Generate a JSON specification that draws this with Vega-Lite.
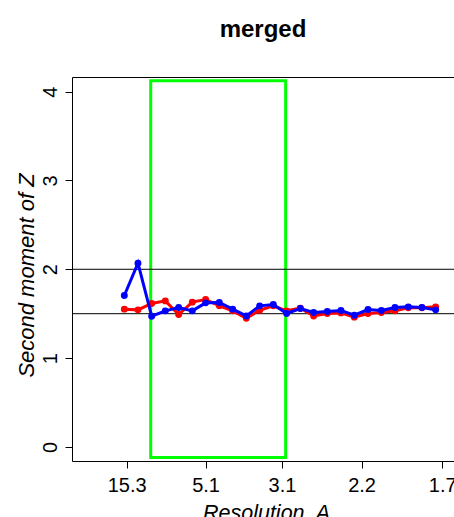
{
  "$schema": "https://vega.github.io/schema/vega-lite/v6.json",
  "width": 382,
  "height": 384,
  "autosize": {"type": "none"},
  "padding": {"left": 72, "top": 77, "right": 0, "bottom": 56},
  "background": "white",
  "title": {"text": "merged", "font": "Liberation Sans", "fontSize": 24, "fontWeight": "bold", "color": "black", "anchor": "middle", "baseline": "alphabetic", "offset": 16},
  "config": {"view": {"stroke": null}},
  "data": {"values": [
    {"kind": "box", "s": 0.1052, "s2": 0.3288, "v": -0.119, "v2": 4.122},
    {"kind": "ref", "v": 2.0},
    {"kind": "ref", "v": 1.5},
    {"kind": "red", "s": 0.0615, "v": 1.551},
    {"kind": "red", "s": 0.0841, "v": 1.543},
    {"kind": "red", "s": 0.1068, "v": 1.615},
    {"kind": "red", "s": 0.1294, "v": 1.644},
    {"kind": "red", "s": 0.1515, "v": 1.491},
    {"kind": "red", "s": 0.1741, "v": 1.630},
    {"kind": "red", "s": 0.1962, "v": 1.660},
    {"kind": "red", "s": 0.2189, "v": 1.588},
    {"kind": "red", "s": 0.2410, "v": 1.532},
    {"kind": "red", "s": 0.2636, "v": 1.449},
    {"kind": "red", "s": 0.2857, "v": 1.539},
    {"kind": "red", "s": 0.3083, "v": 1.588},
    {"kind": "red", "s": 0.3304, "v": 1.532},
    {"kind": "red", "s": 0.3531, "v": 1.562},
    {"kind": "red", "s": 0.3751, "v": 1.475},
    {"kind": "red", "s": 0.3978, "v": 1.502},
    {"kind": "red", "s": 0.4204, "v": 1.509},
    {"kind": "red", "s": 0.4425, "v": 1.461},
    {"kind": "red", "s": 0.4652, "v": 1.502},
    {"kind": "red", "s": 0.4873, "v": 1.513},
    {"kind": "red", "s": 0.5099, "v": 1.532},
    {"kind": "red", "s": 0.5320, "v": 1.566},
    {"kind": "red", "s": 0.5546, "v": 1.566},
    {"kind": "red", "s": 0.5773, "v": 1.577},
    {"kind": "blue", "s": 0.0615, "v": 1.705},
    {"kind": "blue", "s": 0.0841, "v": 2.069},
    {"kind": "blue", "s": 0.1068, "v": 1.472},
    {"kind": "blue", "s": 0.1294, "v": 1.532},
    {"kind": "blue", "s": 0.1515, "v": 1.570},
    {"kind": "blue", "s": 0.1741, "v": 1.532},
    {"kind": "blue", "s": 0.1962, "v": 1.622},
    {"kind": "blue", "s": 0.2189, "v": 1.626},
    {"kind": "blue", "s": 0.2410, "v": 1.551},
    {"kind": "blue", "s": 0.2636, "v": 1.475},
    {"kind": "blue", "s": 0.2857, "v": 1.588},
    {"kind": "blue", "s": 0.3083, "v": 1.604},
    {"kind": "blue", "s": 0.3304, "v": 1.502},
    {"kind": "blue", "s": 0.3531, "v": 1.558},
    {"kind": "blue", "s": 0.3751, "v": 1.513},
    {"kind": "blue", "s": 0.3978, "v": 1.525},
    {"kind": "blue", "s": 0.4204, "v": 1.536},
    {"kind": "blue", "s": 0.4425, "v": 1.483},
    {"kind": "blue", "s": 0.4652, "v": 1.547},
    {"kind": "blue", "s": 0.4873, "v": 1.536},
    {"kind": "blue", "s": 0.5099, "v": 1.570},
    {"kind": "blue", "s": 0.5320, "v": 1.577},
    {"kind": "blue", "s": 0.5546, "v": 1.570},
    {"kind": "blue", "s": 0.5773, "v": 1.543}
  ]},
  "encoding": {
    "y": {
      "field": "v", "type": "quantitative",
      "scale": {"domain": [-0.158, 4.164], "nice": false, "zero": false},
      "axis": {
        "values": [0, 1, 2, 3, 4], "grid": false, "domain": true, "domainColor": "black", "domainWidth": 1,
        "ticks": true, "tickColor": "black", "tickSize": 7, "tickWidth": 1,
        "labelAngle": 270, "labelAlign": "center", "labelBaseline": "alphabetic", "labelPadding": 9,
        "labelFont": "Liberation Sans", "labelFontSize": 20, "labelColor": "black", "labelFlush": false, "labelOverlap": false,
        "title": "Second moment of Z", "titleFont": "Liberation Sans", "titleFontSize": 22, "titleFontStyle": "italic", "titleFontWeight": "normal", "titleColor": "black",
        "titleAngle": 270, "titleAlign": "center", "titleBaseline": "alphabetic", "titleX": -39, "titleY": 198
      }
    }
  },
  "layer": [
    {
      "transform": [{"filter": "datum.kind == 'box'"}],
      "mark": {"type": "rect", "fillOpacity": 0, "stroke": "#00ff00", "strokeWidth": 3},
      "encoding": {
        "x": {"field": "s", "type": "quantitative", "scale": {"domain": [-0.0252, 0.6077], "nice": false, "zero": false},
          "axis": {"orient": "top", "ticks": false, "labels": false, "domain": true, "domainColor": "black", "domainWidth": 1, "grid": false, "title": null}},
        "x2": {"field": "s2"},
        "y2": {"field": "v2"}
      }
    },
    {
      "transform": [{"filter": "datum.kind == 'ref'"}],
      "mark": {"type": "rule", "color": "black", "strokeWidth": 1},
      "encoding": {}
    },
    {
      "transform": [{"filter": "datum.kind == 'red'"}],
      "mark": {"type": "line", "color": "#ff0000", "strokeWidth": 3, "point": {"filled": true, "size": 48, "color": "#ff0000", "opacity": 1}},
      "encoding": {
        "x": {"field": "s", "type": "quantitative", "scale": {"domain": [-0.0252, 0.6077], "nice": false, "zero": false},
          "axis": {
            "orient": "bottom", "values": [0.06536, 0.19608, 0.32258, 0.45455, 0.58824],
            "labelExpr": "format(1/datum.value, '.1f')",
            "grid": false, "domain": true, "domainColor": "black", "domainWidth": 1,
            "ticks": true, "tickColor": "black", "tickSize": 7, "tickWidth": 1,
            "labelFont": "Liberation Sans", "labelFontSize": 20, "labelColor": "black", "labelBaseline": "alphabetic", "labelPadding": 23.7,
            "labelFlush": false, "labelOverlap": false, "labelBound": false,
            "title": "Resolution, A", "titleFont": "Liberation Sans", "titleFontSize": 21.5, "titleFontStyle": "italic", "titleFontWeight": "normal", "titleColor": "black",
            "titleBaseline": "alphabetic", "titleAlign": "center", "titleX": 194, "titleY": 58
          }}
      }
    },
    {
      "transform": [{"filter": "datum.kind == 'blue'"}],
      "mark": {"type": "line", "color": "#0000ff", "strokeWidth": 3, "point": {"filled": true, "size": 48, "color": "#0000ff", "opacity": 1}},
      "encoding": {
        "x": {"field": "s", "type": "quantitative", "scale": {"domain": [-0.0252, 0.6077], "nice": false, "zero": false}, "axis": null}
      }
    }
  ],
  "resolve": {"axis": {"x": "independent"}}
}
